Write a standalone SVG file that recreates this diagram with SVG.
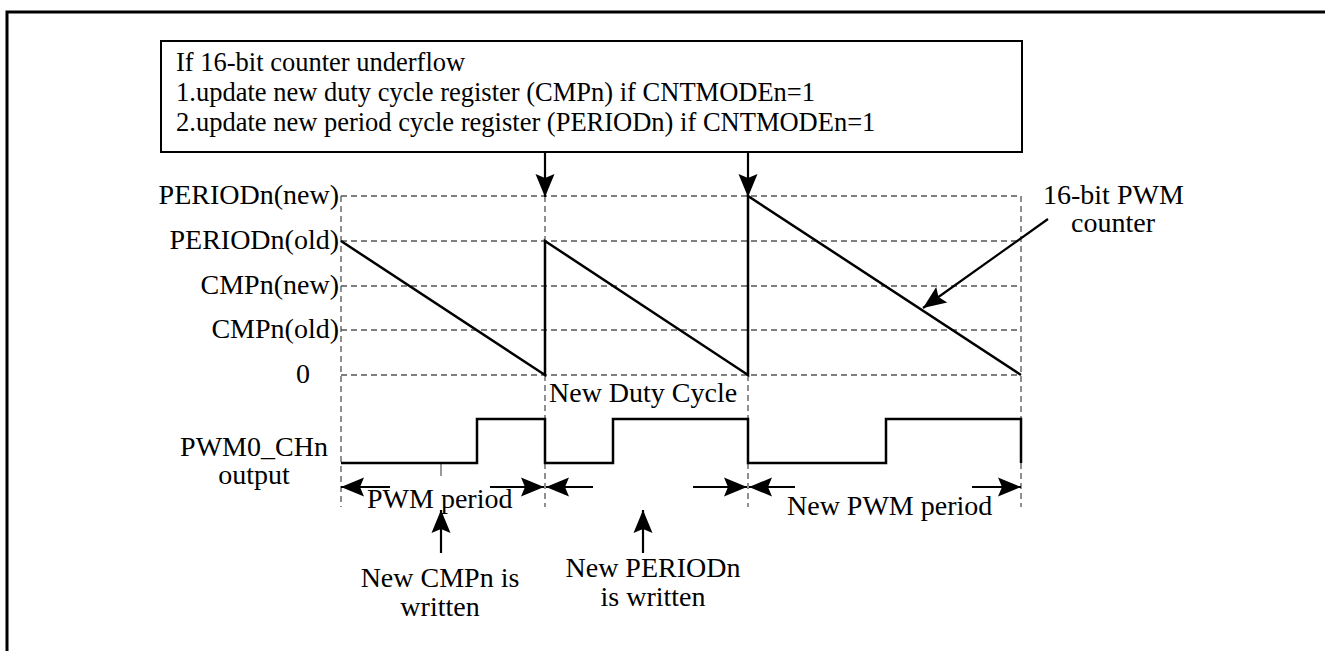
<svg xmlns="http://www.w3.org/2000/svg" width="1325" height="651" viewBox="0 0 1325 651">
  <defs>
    <style>
      .t { font-family: "Liberation Serif", "Times New Roman", serif; font-size: 28px; fill: #000; }
      .note { font-size: 26.5px; }
      .e { text-anchor: end; }
      .m { text-anchor: middle; }
      .solid { fill: none; stroke: #000; stroke-width: 2.5; stroke-linejoin: miter; }
      .dash { fill: none; stroke: #555; stroke-width: 1.3; stroke-dasharray: 6 4; }
      .conn { fill: none; stroke: #000; stroke-width: 2.2; }
      .frame { fill: none; stroke: #000; stroke-width: 3; }
      .box { fill: #fff; stroke: #000; stroke-width: 2; }
    </style>
    <marker id="arrow" markerUnits="userSpaceOnUse" markerWidth="26" markerHeight="22" refX="24" refY="10" orient="auto">
      <path d="M24,10 L1,0.5 L5,10 L1,19.5 Z" fill="#000"/>
    </marker>
  </defs>

  <!-- page frame -->
  <path class="frame" d="M7,651 V12 H1325"/>

  <!-- update condition note -->
  <g id="note">
    <rect class="box" x="161" y="41" width="861" height="111"/>
    <text class="t note" x="176" y="71">If 16-bit counter underflow</text>
    <text class="t note" x="176" y="101">1.update new duty cycle register (CMPn) if CNTMODEn=1</text>
    <text class="t note" x="176" y="131">2.update new period cycle register (PERIODn) if CNTMODEn=1</text>
  </g>

  <!-- level grid -->
  <g id="grid">
    <path class="dash" d="M341,196 H1021 M341,241 H1021 M341,286 H1021 M341,330 H1021 M341,375 H1021"/>
    <path class="dash" d="M341,196 V507 M1021,196 V419 M1021,463 V507"/>
    <path class="dash" d="M545,196 V241 M545,375 V419 M545,463 V507"/>
    <path class="dash" d="M748,375 V419 M748,463 V507"/>
    <path d="M441,464 V476" stroke="#777" stroke-width="1.5"/>
  </g>

  <!-- level labels -->
  <g id="levels">
    <text class="t e" x="339" y="204">PERIODn(new)</text>
    <text class="t e" x="339" y="249">PERIODn(old)</text>
    <text class="t e" x="339" y="294">CMPn(new)</text>
    <text class="t e" x="339" y="338">CMPn(old)</text>
    <text class="t m" x="303" y="383">0</text>
  </g>

  <!-- 16-bit down counter -->
  <g id="counter">
    <polyline class="solid" points="341,241 545,375 545,241 748,375 748,196 1021,375"/>
    <text class="t" x="1043" y="204">16-bit PWM</text>
    <text class="t m" x="1113" y="232">counter</text>
  </g>

  <!-- PWM output waveform -->
  <g id="pwm-output">
    <polyline class="solid" points="341,463 477,463 477,419 545,419 545,463 613,463 613,419 748,419 748,463 886,463 886,419 1021,419 1021,463"/>
    <text class="t m" x="254" y="456">PWM0_CHn</text>
    <text class="t m" x="254" y="484">output</text>
    <text class="t" x="549" y="402">New Duty Cycle</text>
  </g>

  <!-- period spans -->
  <g id="periods">
    <text class="t" x="367" y="508">PWM period</text>
    <text class="t" x="787" y="515">New PWM period</text>
  </g>

  <!-- register write events -->
  <g id="write-cmp">
    <text class="t m" x="440" y="587">New CMPn is</text>
    <text class="t m" x="440" y="616">written</text>
  </g>
  <g id="write-period">
    <text class="t m" x="653" y="577">New PERIODn</text>
    <text class="t m" x="653" y="606">is written</text>
  </g>

  <!-- connectors -->
  <g id="connectors">
    <line class="conn" x1="545" y1="152" x2="545" y2="197" marker-end="url(#arrow)"/>
    <line class="conn" x1="748" y1="152" x2="748" y2="197" marker-end="url(#arrow)"/>
    <line class="conn" x1="1048" y1="219" x2="923" y2="308" marker-end="url(#arrow)"/>
    <line class="conn" x1="390" y1="487" x2="341" y2="487" marker-end="url(#arrow)"/>
    <line class="conn" x1="490" y1="487" x2="544" y2="487" marker-end="url(#arrow)"/>
    <line class="conn" x1="593" y1="487" x2="546" y2="487" marker-end="url(#arrow)"/>
    <line class="conn" x1="693" y1="487" x2="747" y2="487" marker-end="url(#arrow)"/>
    <line class="conn" x1="795" y1="487" x2="749" y2="487" marker-end="url(#arrow)"/>
    <line class="conn" x1="972" y1="487" x2="1021" y2="487" marker-end="url(#arrow)"/>
    <line class="conn" x1="441" y1="553" x2="441" y2="510" marker-end="url(#arrow)"/>
    <line class="conn" x1="643" y1="553" x2="643" y2="510" marker-end="url(#arrow)"/>
  </g>
</svg>
